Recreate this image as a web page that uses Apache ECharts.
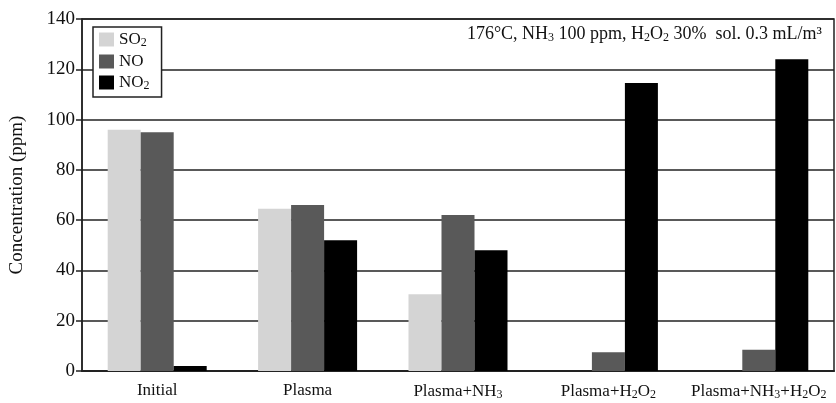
<!DOCTYPE html>
<html>
<head>
<meta charset="utf-8">
<style>
  html, body { margin: 0; padding: 0; background: #fff; }
  #main { width: 836px; height: 403px; }
</style>
<script src="https://cdn.jsdelivr.net/npm/echarts@6/dist/echarts.min.js"></script>
</head>
<body>
<div id="main"></div>
<script>
    // data
    var categories = ['Initial', 'Plasma', 'Plasma+NH3', 'Plasma+H2O2', 'Plasma+NH3+H2O2'];
    var so2 = [96, 64.5, 30.5, 0, 0];
    var no = [95, 66, 62, 7.5, 8.5];
    var no2 = [2, 52, 48, 114.5, 124];
    var yTicks = [0, 20, 40, 60, 80, 100, 120, 140];

    // labels with subscripts
    var catLabels = {
        'Initial': 'Initial',
        'Plasma': 'Plasma',
        'Plasma+NH3': 'Plasma+NH{s|3}',
        'Plasma+H2O2': 'Plasma+H{s|2}O{s|2}',
        'Plasma+NH3+H2O2': 'Plasma+NH{s|3}+H{s|2}O{s|2}'
    };
    var legendLabels = { 'SO2': 'SO{s|2}', 'NO': 'NO', 'NO2': 'NO{s|2}' };

    var serif = 'Liberation Serif';
    var sub = { fontSize: 12, fontFamily: serif, color: '#111', padding: [7, 0, 0, 0] };

    var myChart = echarts.init(document.getElementById('main'));
    var option = {
        animation: false,
        backgroundColor: '#fff',
        title: {
            text: '176°C, NH{s|3} 100 ppm, H{s|2}O{s|2} 30%  sol. 0.3 mL/m³',
            right: 9,
            top: 20,
            textStyle: {
                fontFamily: serif, fontSize: 18, fontWeight: 'normal', color: '#111',
                rich: { s: sub }
            }
        },
        legend: {
            orient: 'vertical',
            left: 93,
            top: 27,
            data: ['SO2', 'NO', 'NO2'],
            backgroundColor: '#fff',
            borderColor: '#222',
            borderWidth: 1.5,
            borderRadius: 0,
            padding: [4, 12, 5, 6],
            itemWidth: 15,
            itemHeight: 14,
            itemGap: 4,
            icon: 'rect',
            formatter: function (n) { return legendLabels[n]; },
            textStyle: {
                fontFamily: serif, fontSize: 17, color: '#111',
                rich: { s: sub }
            }
        },
        grid: {
            left: 82, right: 2, top: 19, bottom: 32,
            outerBoundsMode: 'none',
            containLabel: false,
            show: true, borderColor: '#222', borderWidth: 1.5
        },
        xAxis: {
            type: 'category',
            data: categories,
            axisTick: { show: false },
            axisLine: { lineStyle: { color: '#222', width: 2 } },
            axisLabel: {
                interval: 0,
                margin: 11,
                fontFamily: serif, fontSize: 17, color: '#111',
                formatter: function (v) { return catLabels[v]; },
                rich: { s: sub }
            }
        },
        yAxis: {
            type: 'value',
            min: 0, max: 140, interval: 20,
            name: 'Concentration (ppm)',
            nameLocation: 'middle',
            nameGap: 55,
            nameTextStyle: { fontFamily: serif, fontSize: 19, color: '#111' },
            axisLine: { show: true, lineStyle: { color: '#222', width: 1.5 } },
            axisTick: { show: true, length: 6, lineStyle: { color: '#222', width: 1.5 } },
            axisLabel: {
                fontFamily: serif, fontSize: 19, color: '#111', margin: 7,
                formatter: function (v) { return yTicks.indexOf(v) >= 0 ? String(v) : ''; }
            },
            splitLine: { lineStyle: { color: '#222', width: 1.5 } }
        },
        series: [
            { name: 'SO2', type: 'bar', data: so2, barWidth: 33, barGap: '0%', itemStyle: { color: '#d4d4d4' } },
            { name: 'NO', type: 'bar', data: no, barWidth: 33, barGap: '0%', itemStyle: { color: '#595959' } },
            { name: 'NO2', type: 'bar', data: no2, barWidth: 33, barGap: '0%', itemStyle: { color: '#000' } }
        ]
    };
    myChart.setOption(option);
</script>
</body>
</html>
